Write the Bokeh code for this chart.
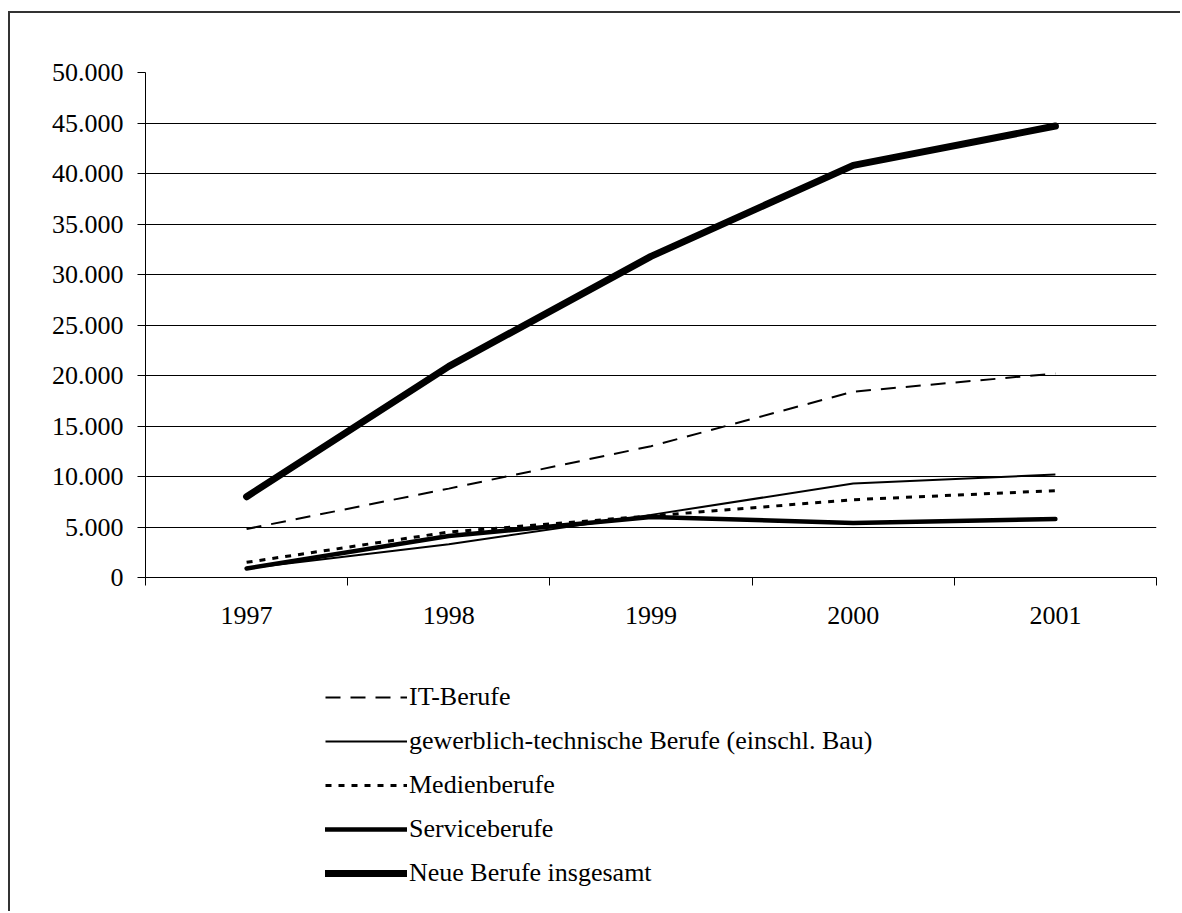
from bokeh.plotting import figure
from bokeh.layouts import column
from bokeh.models import (Range1d, FixedTicker, Legend, LegendItem)
from bokeh.embed import file_html
from bokeh.resources import INLINE

# ---- data ----
years = ["1997", "1998", "1999", "2000", "2001"]
it_berufe = [4800, 8800, 13000, 18400, 20200]
gewerblich = [900, 3300, 6200, 9300, 10200]
medien = [1500, 4500, 6100, 7700, 8600]
service = [900, 4100, 6000, 5400, 5800]
insgesamt = [8000, 20900, 31800, 40800, 44700]

series_names = ["IT-Berufe",
                "gewerblich-technische Berufe (einschl. Bau)",
                "Medienberufe",
                "Serviceberufe",
                "Neue Berufe insgesamt"]
y_ticks = list(range(0, 50001, 5000))

FONT = "Liberation Serif"
FS = "26px"

xs = [i + 0.5 for i in range(len(years))]

# line styles per series (IT, gewerblich, Medien, Service, insgesamt)
styles = [
    dict(line_color="black", line_width=2, line_dash="15 10"),
    dict(line_color="black", line_width=2),
    dict(line_color="black", line_width=3, line_dash="6 7"),
    dict(line_color="black", line_width=4.5, line_join="round", line_cap="round"),
    dict(line_color="black", line_width=7, line_join="round", line_cap="round"),
]
series = [it_berufe, gewerblich, medien, service, insgesamt]

# ---- main chart ----
p = figure(frame_width=1011, frame_height=505,
           min_border_left=135, min_border_right=24,
           min_border_top=59, min_border_bottom=70,
           x_range=Range1d(0, len(years)), y_range=Range1d(0, 50000),
           output_backend="svg", toolbar_location=None)
p.outline_line_color = None
p.background_fill_color = "white"
p.border_fill_color = "white"

p.xgrid.grid_line_color = None
p.ygrid.ticker = FixedTicker(ticks=y_ticks)
p.ygrid.grid_line_color = "#000000"
p.ygrid.grid_line_width = 1

ya = p.yaxis[0]
ya.ticker = FixedTicker(ticks=y_ticks)
ya.major_label_overrides = {t: (f"{t:,}".replace(",", ".")) for t in y_ticks}
ya.major_tick_out = 8
ya.major_tick_in = 0
ya.minor_tick_out = 0
ya.minor_tick_in = 0
ya.major_label_standoff = 14
ya.major_label_text_font = FONT
ya.major_label_text_font_size = FS
ya.major_label_text_color = "black"
ya.axis_line_color = "black"
ya.major_tick_line_color = "black"

xa = p.xaxis[0]
xa.ticker = FixedTicker(ticks=xs, minor_ticks=list(range(len(years) + 1)))
xa.major_label_overrides = {x: y for x, y in zip(xs, years)}
xa.major_tick_out = 0
xa.major_tick_in = 0
xa.minor_tick_out = 8
xa.minor_tick_in = 0
xa.minor_tick_line_color = "black"
xa.major_label_standoff = 21
xa.major_label_text_font = FONT
xa.major_label_text_font_size = FS
xa.major_label_text_color = "black"
xa.axis_line_color = "black"

for ys, st in zip(series, styles):
    p.line(xs, ys, **st)

# ---- legend panel (same series, drawn outside its visible range; only legend shows) ----
q = figure(frame_width=1170, frame_height=264,
           min_border_left=0, min_border_right=0, min_border_top=0, min_border_bottom=0,
           x_range=Range1d(100, 101), y_range=Range1d(0, 1),
           x_axis_type=None, y_axis_type=None,
           output_backend="svg", toolbar_location=None)
q.outline_line_color = None
q.xgrid.grid_line_color = None
q.ygrid.grid_line_color = None
q.background_fill_color = "white"
q.border_fill_color = "white"

legend_renderers = [q.line(xs, ys, **st) for ys, st in zip(series, styles)]
legend = Legend(items=[LegendItem(label=n, renderers=[r]) for n, r in zip(series_names, legend_renderers)],
                location=(315, 16), orientation="vertical",
                glyph_width=82, glyph_height=44, label_height=44, spacing=0,
                label_standoff=2, padding=0, margin=0,
                label_text_font=FONT, label_text_font_size=FS, label_text_color="black",
                border_line_color=None, background_fill_alpha=0)
q.add_layout(legend, "center")

layout = column(p, q, spacing=0, margin=(11, 0, 0, 8),
                styles={"border-left": "2px solid #333333", "border-top": "2px solid #333333"})

open("out.html", "w").write(file_html(layout, INLINE))
